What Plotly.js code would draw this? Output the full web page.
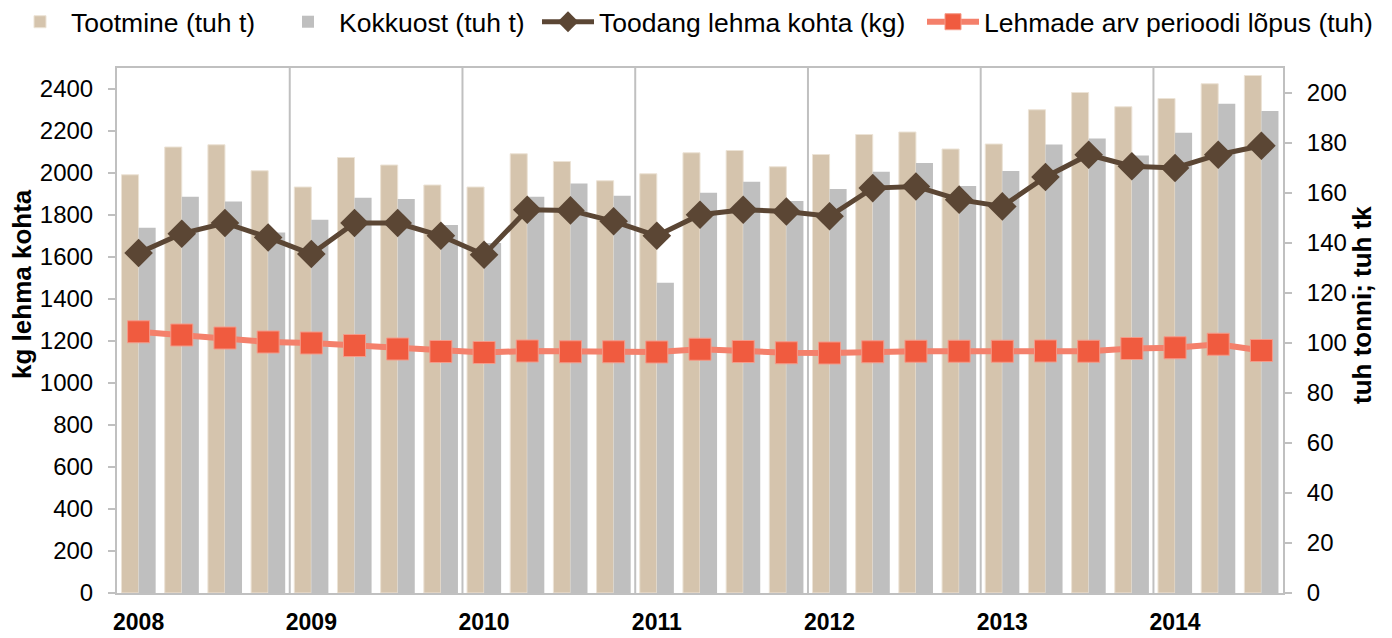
<!DOCTYPE html>
<html>
<head>
<meta charset="utf-8">
<script src="https://cdn.plot.ly/plotly-3.0.1.min.js"></script>
<style>html,body{margin:0;padding:0;background:#fff;}#chart{width:1392px;height:638px;}</style>
</head>
<body>
<div id="chart"></div>
<script>
const years = ['2008','2009','2010','2011','2012','2013','2014'];
const periods = [
 '2008 I','2008 II','2008 III','2008 IV',
 '2009 I','2009 II','2009 III','2009 IV',
 '2010 I','2010 II','2010 III','2010 IV',
 '2011 I','2011 II','2011 III','2011 IV',
 '2012 I','2012 II','2012 III','2012 IV',
 '2013 I','2013 II','2013 III','2013 IV',
 '2014 I','2014 II','2014 III'
];
const tootmine = [167.3,178.4,179.3,168.9, 162.4,174.2,171.2,163.2, 162.4,175.7,172.6,164.9, 167.7,176.1,177.0,170.5, 175.4,183.4,184.4,177.6, 179.6,193.3,200.2,194.5, 197.8,203.7,207.0];
const kokkuost = [146.1,158.5,156.6,144.2, 149.3,158.1,157.6,147.2, 140.0,158.5,163.8,158.9, 124.1,160.1,164.5,156.8, 161.6,168.5,172.0,162.8, 168.8,179.4,181.8,175.0, 184.1,195.7,192.8];
const toodang = [1619,1711,1762,1693, 1614,1762,1762,1701, 1611,1825,1822,1770, 1701,1801,1825,1817, 1794,1928,1936,1873, 1841,1981,2087,2032, 2024,2087,2130];
const lehmad = [104.5,103.2,102.0,100.4, 100.0,99.0,97.6,96.6, 96.2,96.8,96.5,96.5, 96.4,97.5,96.6,96.1, 96.0,96.5,96.7,96.7, 96.7,96.8,96.7,97.8, 98.1,99.5,97.0];

const leftTitle = 'kg lehma kohta';
const rightTitle = 'tuh tonni; tuh tk';

const FONT = 'Liberation Sans, Arial, sans-serif';
const GRID = '#c0c0c0';
const W = 1392, H = 638;

// first quarter of each year -> year tick labels
const yearTickVals = years.map(y => periods.find(p => p.startsWith(y + ' ')));
// year boundaries -> vertical separator lines
const shapes = years.slice(1).map(y => {
  const idx = periods.findIndex(p => p.startsWith(y + ' '));
  return {type:'line', xref:'x', yref:'paper', x0: idx - 0.5, x1: idx - 0.5, y0: 0, y1: 1,
          line:{color: GRID, width: 2}, layer:'below'};
});

const traces = [
  {type:'bar', name:'Tootmine (tuh t)', x: periods, y: tootmine, yaxis:'y', legend:'legend',
   marker:{color:'#d5c4ad', line:{color:'#ece3d6', width:1}}},
  {type:'bar', name:'Kokkuost (tuh t)', x: periods, y: kokkuost, yaxis:'y', legend:'legend2',
   marker:{color:'#bfbfbf', line:{width:0}}},
  {type:'scatter', mode:'lines+markers', name:'Toodang lehma kohta (kg)', x: periods, y: toodang, yaxis:'y2', legend:'legend3',
   line:{color:'#5b4634', width:5}, marker:{symbol:'diamond', size:22, color:'#5b4634'}},
  {type:'scatter', mode:'lines+markers', name:'Lehmade arv perioodi lõpus (tuh)', x: periods, y: lehmad, yaxis:'y', legend:'legend4',
   line:{color:'#f4806b', width:6}, marker:{symbol:'square', size:22, color:'#f05b3f', line:{color:'#f59a88', width:1}}}
];

function leg(px){
  return {orientation:'h', xref:'container', yref:'container', x: px / W, y: 1 - 22 / H,
          xanchor:'left', yanchor:'middle', itemwidth:52,
          font:{family: FONT, size:26.5, color:'#000'}, bgcolor:'rgba(0,0,0,0)', borderwidth:0};
}

const layout = {
  width: W, height: H,
  margin: {l:117, r:109, t:68, b:45, pad:0},
  paper_bgcolor:'#ffffff', plot_bgcolor:'#ffffff',
  font: {family: FONT, size: 24, color:'#000'},
  barmode:'group', bargap:0.21, bargroupgap:0,
  showlegend: true,
  legend: leg(9), legend2: leg(277), legend3: leg(537), legend4: leg(922),
  xaxis: {type:'category', range:[-0.5, periods.length - 0.5], tickmode:'array', tickvals: yearTickVals, ticktext: years,
          showgrid:false, zeroline:false, showline:true, linecolor:GRID, linewidth:2, mirror:true,
          ticks:'', ticklabelstandoff:7, tickfont:{family: FONT, size:23, weight:'bold', color:'#000'}},
  yaxis: {side:'right', range:[0,210], dtick:20, tick0:0, showgrid:false, zeroline:false,
          showline:true, linecolor:GRID, linewidth:2, ticks:'outside', ticklen:7, tickcolor:GRID, tickwidth:1.5,
          ticklabelstandoff:10, tickfont:{family: FONT, size:24, color:'#000'}},
  yaxis2: {side:'left', overlaying:'y', range:[0,2500], dtick:200, tick0:0, showgrid:false, zeroline:false,
          showline:true, linecolor:GRID, linewidth:2, ticks:'outside', ticklen:7, tickcolor:GRID, tickwidth:1.5,
          ticklabelstandoff:10, tickfont:{family: FONT, size:24, color:'#000'}},
  annotations: [
    {xref:'paper', yref:'paper', x:(22 - 117) / 1166, y:(593 - 284) / 525, text: leftTitle, textangle:-90,
     showarrow:false, xanchor:'center', yanchor:'middle', font:{family: FONT, size:26, weight:'bold', color:'#000'}},
    {xref:'paper', yref:'paper', x:(1362 - 117) / 1166, y:(593 - 305) / 525, text: rightTitle, textangle:-90,
     showarrow:false, xanchor:'center', yanchor:'middle', font:{family: FONT, size:26, weight:'bold', color:'#000'}}
  ],
  shapes: shapes
};

Plotly.newPlot('chart', traces, layout, {displayModeBar:false, responsive:false, staticPlot:true});
</script>
</body>
</html>
